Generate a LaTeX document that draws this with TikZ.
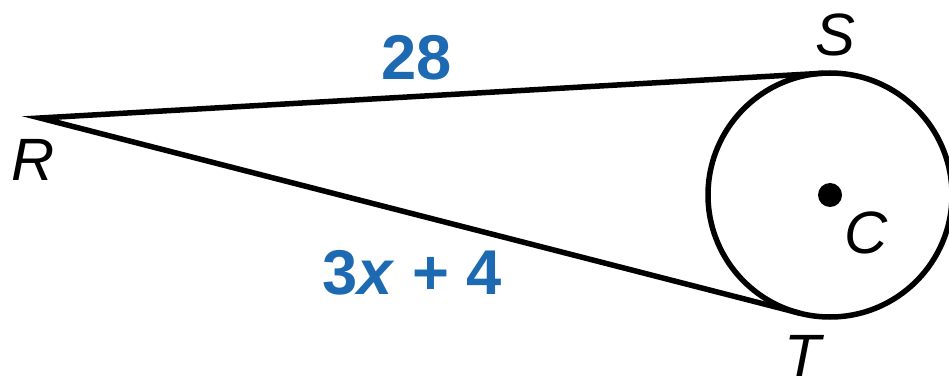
\documentclass[tikz,border=0pt]{standalone}
\usepackage{fontspec}
\setmainfont{Liberation Sans}
\usepackage{tikz}
\usetikzlibrary{calc}
\definecolor{measblue}{HTML}{1D6AB3}

\begin{document}
\begin{tikzpicture}[
  x=0.1mm,y=-0.1mm,
  seg/.style={line width=0.55mm,line join=miter},
  ptlabel/.style={font=\fontsize{17}{20}\selectfont\itshape,inner sep=0pt},
  measure/.style={font=\fontsize{18}{21}\selectfont\bfseries,text=measblue,inner sep=0pt}
]
\useasboundingbox (0,0) rectangle (949,378);
\clip (0,0) rectangle (949,378);
% circle and centre
\node[circle,draw,line width=0.55mm,inner sep=0pt,outer sep=0pt,minimum size=24.4mm] (circ) at (830,195) {};
\node[circle,fill,inner sep=0pt,minimum size=2.4mm] (ctr) at (830,195) {};
% external point and tangent points
\coordinate (R) at (40,118);
\coordinate (S) at (tangent cs:node=circ,point={(R)},solution=2);
\coordinate (T) at (tangent cs:node=circ,point={(R)},solution=1);
\draw[seg] (S) -- (R) -- (T);
% labels
\node[ptlabel] (lR) at (33,160) {R};
\node[ptlabel] (lS) at (835,35) {S};
\node[ptlabel] (lT) at (803,356) {T};
\node[ptlabel] (lC) at (866,233) {C};
\node[measure] (lRS) at (417,58) {28};
\node[measure] (lRT) at (412,273) {3\textit{x} + 4};
\end{tikzpicture}
\end{document}
